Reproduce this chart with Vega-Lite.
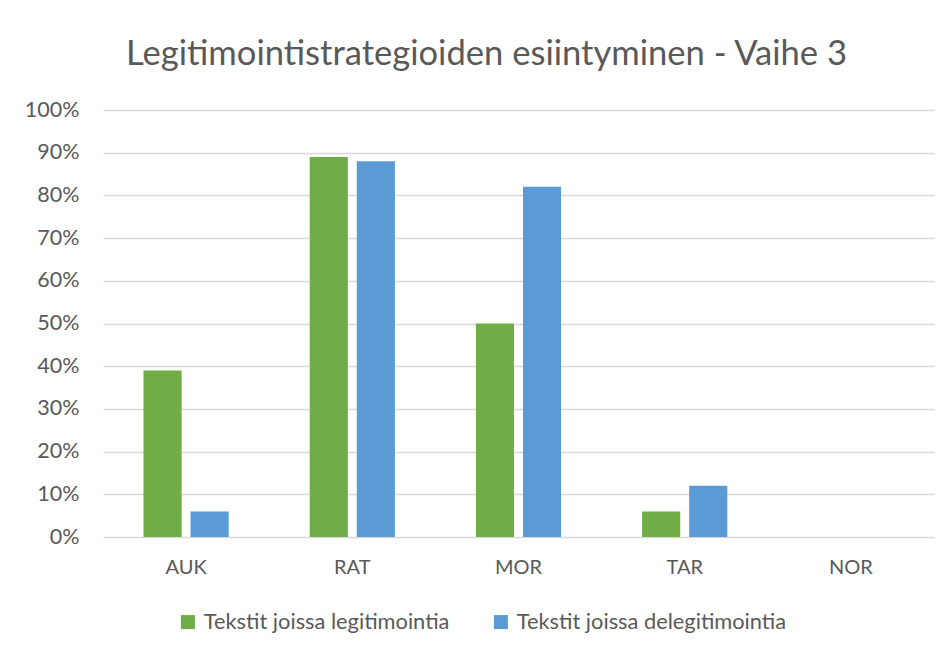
{
  "$schema": "https://vega.github.io/schema/vega-lite/v6.json",
  "width": 831,
  "height": 427,
  "autosize": "none",
  "padding": {"left": 103, "top": 110, "right": 18, "bottom": 117},
  "background": "white",
  "title": {
    "text": "Legitimointistrategioiden esiintyminen - Vaihe 3",
    "font": "Lato",
    "fontSize": 34.6,
    "fontWeight": "normal",
    "color": "#595959",
    "anchor": "middle",
    "dx": -32,
    "offset": 26
  },
  "data": {
    "values": [
      {"cat": "AUK", "series": "Tekstit joissa legitimointia", "value": 0.39},
      {"cat": "AUK", "series": "Tekstit joissa delegitimointia", "value": 0.06},
      {"cat": "RAT", "series": "Tekstit joissa legitimointia", "value": 0.89},
      {"cat": "RAT", "series": "Tekstit joissa delegitimointia", "value": 0.88},
      {"cat": "MOR", "series": "Tekstit joissa legitimointia", "value": 0.50},
      {"cat": "MOR", "series": "Tekstit joissa delegitimointia", "value": 0.82},
      {"cat": "TAR", "series": "Tekstit joissa legitimointia", "value": 0.06},
      {"cat": "TAR", "series": "Tekstit joissa delegitimointia", "value": 0.12},
      {"cat": "NOR", "series": "Tekstit joissa legitimointia", "value": 0},
      {"cat": "NOR", "series": "Tekstit joissa delegitimointia", "value": 0}
    ]
  },
  "mark": {"type": "bar"},
  "encoding": {
    "x": {
      "field": "cat",
      "type": "nominal",
      "sort": ["AUK", "RAT", "MOR", "TAR", "NOR"],
      "scale": {"paddingInner": 0, "paddingOuter": 0},
      "axis": {
        "title": null,
        "labelAngle": 0,
        "domain": false,
        "ticks": false,
        "labelPadding": 20,
        "labelFont": "Lato",
        "labelFontSize": 20,
        "labelColor": "#595959"
      }
    },
    "xOffset": {
      "field": "series",
      "type": "nominal",
      "sort": ["Tekstit joissa legitimointia", "Tekstit joissa delegitimointia"],
      "scale": {"paddingInner": 0.19, "paddingOuter": 0.86}
    },
    "y": {
      "field": "value",
      "type": "quantitative",
      "scale": {"domain": [0, 1]},
      "axis": {
        "title": null,
        "format": ".0%",
        "values": [0, 0.1, 0.2, 0.3, 0.4, 0.5, 0.6, 0.7, 0.8, 0.9, 1],
        "domain": false,
        "ticks": false,
        "labelPadding": 24,
        "labelFont": "Lato",
        "labelFontSize": 21.5,
        "labelColor": "#595959",
        "gridColor": "#D9D9D9",
        "gridWidth": 1.5
      }
    },
    "color": {
      "field": "series",
      "type": "nominal",
      "sort": ["Tekstit joissa legitimointia", "Tekstit joissa delegitimointia"],
      "scale": {"range": ["#70AD47", "#5B9BD5"]},
      "legend": {
        "title": null,
        "orient": "none",
        "direction": "horizontal",
        "legendX": 74,
        "legendY": 501,
        "symbolType": "square",
        "symbolSize": 196,
        "symbolStrokeWidth": 0,
        "symbolOpacity": 1,
        "labelFont": "Lato",
        "labelFontSize": 21.8,
        "labelColor": "#595959",
        "labelOffset": 5,
        "labelLimit": 400,
        "columnPadding": 40
      }
    }
  },
  "config": {
    "view": {"stroke": null}
  }
}
